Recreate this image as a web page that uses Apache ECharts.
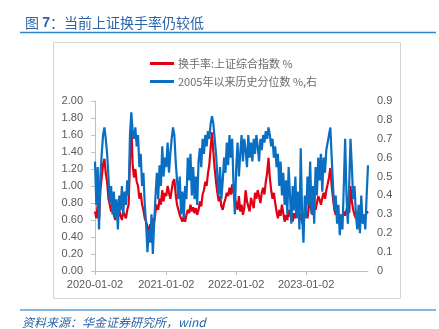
<!DOCTYPE html>
<html>
<head>
<meta charset="utf-8">
<script src="https://cdn.jsdelivr.net/npm/echarts@6/dist/echarts.min.js"></script>
<style>
html,body{margin:0;padding:0;background:#fff;}
#c{width:439px;height:329px;}
</style>
</head>
<body>
<div id="c"></div>
<script>
// weekly dates from each year's Jan 2
function weeks(year, count) {
  var out = [];
  var t = Date.UTC(year, 0, 2);
  for (var k = 0; k < count; k++) {
    var d = new Date(t + k * 7 * 86400000);
    out.push(d.toISOString().slice(0, 10));
  }
  return out;
}
var categories = [].concat(weeks(2020, 53), weeks(2021, 52), weeks(2022, 52), weeks(2023, 47));
var tickLabels = ['2020-01-02', '2021-01-02', '2022-01-02', '2023-01-02'];

var turnover2020 = [0.70,0.62,0.78,0.60,0.95,1.10,1.25,1.32,1.15,1.05,0.85,0.78,0.70,0.74,0.66,0.60,0.68,0.62,0.72,0.65,0.60,0.70,0.66,0.62,0.72,0.78,1.30,1.72,1.25,1.10,1.20,1.05,1.00,0.85,0.92,0.78,0.72,0.62,0.58,0.52,0.46,0.55,0.50,0.62,0.58,0.70,0.78,0.72,0.85,0.78,0.95,0.82,0.92];
var turnover2021 = [0.88,1.00,0.92,0.85,0.95,1.05,1.08,0.90,0.78,0.72,0.66,0.62,0.58,0.64,0.58,0.66,0.72,0.68,0.78,0.70,0.75,0.68,0.74,0.66,0.72,0.82,0.76,0.90,0.95,1.05,1.00,1.15,1.25,1.45,1.63,1.40,1.20,1.05,0.92,0.82,0.88,0.76,0.72,0.80,0.85,0.92,0.88,0.98,0.90,1.02,0.92,0.85];
var turnover2022 = [0.80,0.72,0.88,0.70,0.78,0.66,0.74,0.95,0.82,0.76,0.70,0.86,0.80,0.74,0.92,0.85,0.95,0.88,0.80,0.92,0.98,0.90,1.05,1.15,1.33,1.10,0.95,0.85,0.92,0.80,0.70,0.62,0.72,0.65,0.78,0.68,0.58,0.66,0.60,0.72,0.64,0.70,0.58,0.68,0.62,0.74,0.66,0.60,0.68,0.56,0.60,0.64];
var turnover2023 = [0.68,0.62,0.75,0.82,0.70,0.66,0.78,0.72,0.80,0.88,0.84,0.78,0.86,0.92,0.85,0.95,1.02,1.10,1.21,1.00,0.85,0.72,0.66,0.70,0.62,0.66,0.60,0.64,0.70,0.65,0.72,0.78,0.68,1.00,0.82,0.72,0.66,0.62,0.70,0.60,0.66,0.62,0.58,0.66,0.62,0.70,0.68];

var pct2020 = [0.58,0.35,0.55,0.22,0.50,0.62,0.72,0.76,0.70,0.62,0.50,0.36,0.45,0.30,0.42,0.28,0.38,0.22,0.40,0.32,0.45,0.30,0.42,0.35,0.48,0.40,0.72,0.84,0.74,0.70,0.76,0.66,0.72,0.55,0.62,0.45,0.52,0.35,0.25,0.10,0.22,0.15,0.30,0.09,0.25,0.40,0.52,0.38,0.56,0.45,0.66,0.50,0.60];
var pct2021 = [0.55,0.68,0.52,0.62,0.70,0.76,0.72,0.58,0.48,0.38,0.50,0.30,0.42,0.28,0.45,0.38,0.60,0.48,0.62,0.40,0.55,0.38,0.50,0.35,0.58,0.65,0.55,0.70,0.62,0.72,0.66,0.74,0.70,0.78,0.82,0.78,0.70,0.62,0.50,0.40,0.55,0.38,0.48,0.60,0.52,0.68,0.56,0.72,0.60,0.70,0.45,0.30];
var pct2022 = [0.55,0.68,0.50,0.62,0.72,0.58,0.70,0.64,0.55,0.72,0.60,0.68,0.58,0.70,0.62,0.72,0.66,0.58,0.70,0.64,0.72,0.68,0.74,0.70,0.76,0.72,0.66,0.70,0.60,0.66,0.55,0.62,0.45,0.58,0.40,0.52,0.35,0.48,0.30,0.55,0.40,0.25,0.45,0.32,0.50,0.28,0.42,0.22,0.65,0.30,0.15,0.40];
var pct2023 = [0.28,0.50,0.35,0.58,0.30,0.45,0.25,0.55,0.40,0.60,0.48,0.62,0.42,0.60,0.52,0.64,0.68,0.72,0.76,0.60,0.45,0.32,0.40,0.25,0.35,0.19,0.30,0.22,0.45,0.70,0.40,0.25,0.45,0.70,0.55,0.38,0.45,0.30,0.22,0.35,0.20,0.40,0.25,0.30,0.22,0.40,0.56];

var turnover = [].concat(turnover2020, turnover2021, turnover2022, turnover2023);
var percentile = [].concat(pct2020, pct2021, pct2022, pct2023);

var FONT = '"Liberation Sans", "Noto Sans CJK SC", sans-serif';
var CJK = '"Noto Sans CJK SC", "Liberation Sans", sans-serif';

var chart = echarts.init(document.getElementById('c'), null, {renderer: 'canvas'});
function isTick(i, v) { return tickLabels.indexOf(v) >= 0; }

chart.setOption({
  animation: false,
  backgroundColor: '#ffffff',
  title: {
    text: '{a|图 }{b|7}{a|：当前上证换手率仍较低}',
    left: 20, top: 11,
    textStyle: {
      fontWeight: 'normal',
      rich: {
        a: {fontFamily: CJK, fontSize: 14, fontWeight: 'normal', color: '#2A64A6'},
        b: {fontFamily: FONT, fontSize: 14, fontWeight: 'bold', color: '#2A64A6'}
      }
    }
  },
  graphic: [
    {type: 'line', shape: {x1: 20, y1: 32.5, x2: 436, y2: 32.5}, style: {stroke: '#2F85C9', lineWidth: 1.5}, silent: true},
    {type: 'rect', shape: {x: 53.5, y: 42.5, width: 347, height: 256}, style: {fill: 'none', stroke: '#D4D4D4', lineWidth: 1}, silent: true, z: -1},
    {type: 'line', shape: {x1: 20, y1: 310, x2: 436, y2: 310}, style: {stroke: '#5A9FD6', lineWidth: 1.5}, silent: true},
    {type: 'text', left: 22, top: 316, style: {text: '资料来源：华金证券研究所，wind', font: 'italic 12px ' + CJK, fill: '#2A64A6'}, silent: true}
  ],
  legend: {
    orient: 'vertical',
    left: 145, top: 53,
    itemWidth: 24, itemHeight: 3, itemGap: 7,
    icon: 'rect',
    textStyle: {fontFamily: CJK, fontSize: 11, color: '#6B6B6B', padding: [0, 0, 0, -1]},
    data: ['换手率:上证综合指数 %', '2005年以来历史分位数 %,右']
  },
  grid: {left: 95, right: 71, top: 101, bottom: 58},
  xAxis: {
    type: 'category',
    data: categories,
    boundaryGap: false,
    axisLine: {lineStyle: {color: '#BFBFBF', width: 1}},
    axisTick: {show: true, interval: isTick, length: 4, lineStyle: {color: '#BFBFBF'}},
    axisLabel: {interval: isTick, margin: 8, fontFamily: FONT, fontSize: 11, color: '#595959'},
    splitLine: {show: false}
  },
  yAxis: [
    {
      type: 'value', min: 0, max: 2, interval: 0.2,
      axisLine: {show: true, lineStyle: {color: '#BFBFBF'}},
      axisTick: {show: true, length: 4, lineStyle: {color: '#BFBFBF'}},
      axisLabel: {margin: 12, fontFamily: FONT, fontSize: 11, color: '#595959', formatter: function (v) { return v.toFixed(2); }},
      splitLine: {show: false}
    },
    {
      type: 'value', min: 0, max: 0.9, interval: 0.1, position: 'right',
      axisLine: {show: false}, axisTick: {show: false},
      axisLabel: {margin: 9, fontFamily: FONT, fontSize: 11, color: '#595959', formatter: function (v) { return v === 0 ? '0' : v.toFixed(1); }},
      splitLine: {show: false}
    }
  ],
  series: [
    {name: '换手率:上证综合指数 %', type: 'line', yAxisIndex: 0, data: turnover, showSymbol: false, symbol: 'none', lineStyle: {color: '#E00012', width: 2.2}, itemStyle: {color: '#E00012'}},
    {name: '2005年以来历史分位数 %,右', type: 'line', yAxisIndex: 1, data: percentile, showSymbol: false, symbol: 'none', lineStyle: {color: '#0A6FC2', width: 2.2}, itemStyle: {color: '#0A6FC2'}}
  ]
});
</script>
</body>
</html>
